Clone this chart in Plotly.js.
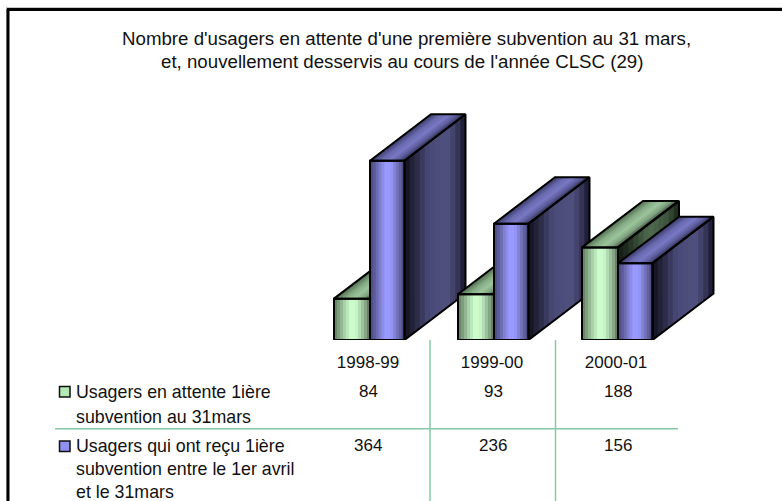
<!DOCTYPE html>
<html><head><meta charset="utf-8">
<script src="https://cdn.plot.ly/plotly-3.0.1.min.js"></script>
<style>html,body{margin:0;padding:0;background:#fff}</style>
</head><body><div id="chart" style="width:782px;height:501px"></div>
<script>
// ---- data
const periods = ["1998-99", "1999-00", "2000-01"];
const enAttente = [84, 93, 188];
const recu = [364, 236, 156];
const titleLines = ["Nombre d'usagers en attente d'une première subvention au 31 mars,", "et, nouvellement desservis au cours de l'année CLSC (29)"];
const enAttenteLabel = ["Usagers en attente 1ière", "subvention au 31mars"];
const recuLabel = ["Usagers qui ont reçu 1ière", "subvention entre le 1er avril", "et le 31mars"];

// ---- styles
const W = 782, H = 501, BASE_Y = 340;
const PX_PER_VALUE = 0.4925, PX_PER_GROUP = 124, GROUP0_X = 370;
const GREEN_W = 36 / PX_PER_GROUP, BLUE_W = 34.5 / PX_PER_GROUP, DX = 61 / PX_PER_GROUP, DY = 46.5 / PX_PER_VALUE;
const TICK_SHIFT = -0.016;
const BANDS = 12;
const greenStyle = {
  front: [[0,'#5f7a5f'],[.15,'#82a582'],[.3,'#aad4aa'],[.45,'#ccfccc'],[.6,'#ccfccc'],[.75,'#a6cea6'],[.9,'#7d9c7d'],[1,'#566a56']],
  side:  [[0,'#121a12'],[.2,'#263426'],[.5,'#4f6b4f'],[.8,'#3d533d'],[1,'#1a251a']],
  top:   [[0,'#506e50'],[.3,'#86ad86'],[.55,'#9cc59c'],[.8,'#7d9f7d'],[1,'#344634']]
};
const blueStyle = {
  front: [[0,'#48487e'],[.15,'#5f5fa0'],[.3,'#8080d0'],[.45,'#9999ff'],[.6,'#9999ff'],[.75,'#7c7cc8'],[.9,'#5c5c98'],[1,'#444478']],
  side:  [[0,'#10101c'],[.15,'#24243c'],[.4,'#4a4a78'],[.7,'#50507f'],[.85,'#3a3a60'],[1,'#14142a']],
  top:   [[0,'#3c3c6a'],[.3,'#6a6ab0'],[.55,'#7878c4'],[.8,'#5a5a98'],[1,'#2e2e50']]
};
const hex = c => [1,3,5].map(i => parseInt(c.substr(i,2),16));
function ramp(stops, t){
  for (let i=1;i<stops.length;i++) if (t<=stops[i][0]) {
    const a=stops[i-1], b=stops[i], f=(t-a[0])/(b[0]-a[0]);
    const A=hex(a[1]), B=hex(b[1]);
    return 'rgb('+A.map((v,k)=>Math.round(v+(B[k]-v)*f)).join(',')+')';
  }
  return stops[stops.length-1][1];
}
const traces = [];
function poly(name, xs, ys, color){
  traces.push({type:'scatter',mode:'lines',x:xs.concat(xs[0]),y:ys.concat(ys[0]),fill:'toself',
    fillcolor:color,line:{width:0},name:name,hoverinfo:'skip',showlegend:false});
}
function outline(name, xs, ys){
  traces.push({type:'scatter',mode:'lines',x:xs.concat(xs[0]),y:ys.concat(ys[0]),
    line:{color:'#000',width:2,simplify:false},name:name,hoverinfo:'skip',showlegend:false});
}
function bar3d(name, x0, w, v, st){
  const x1 = x0 + w;
  for (let b=0;b<BANDS;b++){
    const t=b/BANDS, c=(b+.5)/BANDS;
    // nested bands, each runs to the far edge so no seams show
    poly(name,[x0+t*w,x1,x1,x0+t*w],[0,0,v,v],ramp(st.front,c));
    poly(name,[x1+t*DX,x1+DX,x1+DX,x1+t*DX],[t*DY,DY,v+DY,v+t*DY],ramp(st.side,c));
    poly(name,[x0+t*w,x1,x1+DX,x0+t*w+DX],[v,v,v+DY,v+DY],ramp(st.top,c));
  }
  outline(name,[x0,x1,x1,x0],[0,0,v,v]);
  outline(name,[x1,x1+DX,x1+DX,x1],[0,DY,v+DY,v]);
  outline(name,[x0,x1,x1+DX,x0+DX],[v,v,v+DY,v+DY]);
}
periods.forEach((p,i)=>{
  bar3d('Usagers en attente', i-GREEN_W, GREEN_W, enAttente[i], greenStyle);
  bar3d('Usagers qui ont reçu', i, BLUE_W, recu[i], blueStyle);
});

// ---- page furniture, in pixel terms converted to paper fractions
const px = x => x/W, py = y => 1-y/H;
const FAMILY = '"Liberation Sans", Arial, sans-serif';
const font = size => ({family:FAMILY,size,color:'#111'});
const note = (text,x,y,size,anchor) => ({text,x:px(x),y:py(y),xref:'paper',yref:'paper',xanchor:anchor||'center',yanchor:'middle',showarrow:false,font:font(size),borderpad:0,borderwidth:0});
const annotations = [
  note(titleLines[0],406,38,18.7), note(titleLines[1],402,62,18.7)
];
enAttenteLabel.forEach((t,i)=>annotations.push(note(t,76,392+i*24.5,17.8,'left')));
recuLabel.forEach((t,i)=>annotations.push(note(t,76,446+i*23,17.8,'left')));
periods.forEach((p,i)=>{
  const cx = GROUP0_X-2+i*125;
  annotations.push(note(String(enAttente[i]),cx,391,17));
  annotations.push(note(String(recu[i]),cx,445,17));
});
const line = (x0,y0,x1,y1,color,width) => ({type:'line',xref:'paper',yref:'paper',x0:px(x0),y0:py(y0),x1:px(x1),y1:py(y1),line:{color,width}});
const rect = (x0,y0,x1,y1,fill) => ({type:'rect',xref:'paper',yref:'paper',x0:px(x0),y0:py(y0),x1:px(x1),y1:py(y1),fillcolor:fill,line:{color:'#111',width:1.5}});
const GRID='#85c8a5';
const shapes = [
  line(6.5,6.5,6.5,501,'#c8c8c8',1), line(6.5,7.5,782,7.5,'#c8c8c8',1),
  line(8,9,8,501,'#000',3), line(7,9.5,782,9.5,'#000',3),
  line(430,340,430,501,GRID,1.5), line(555.5,340,555.5,501,GRID,1.5), line(55,428.7,678,428.7,GRID,1.5),
  rect(59.5,386.5,70,397,'#b4e8b4'), rect(59.5,441,70,451.5,'#9090f0')
];
const layout = {
  width:W,height:H,paper_bgcolor:'#fff',plot_bgcolor:'rgba(0,0,0,0)',showlegend:false,
  margin:{l:0,r:0,t:0,b:0,pad:0},
  xaxis:{domain:[0,1],range:[-GROUP0_X/PX_PER_GROUP,(W-GROUP0_X)/PX_PER_GROUP],tickmode:'array',tickvals:periods.map((p,i)=>i+TICK_SHIFT),ticktext:periods,
    showgrid:false,zeroline:false,showline:false,ticks:'outside',ticklen:7,tickcolor:'rgba(0,0,0,0)',tickfont:font(17),fixedrange:true,automargin:false},
  yaxis:{domain:[1-BASE_Y/H,1],range:[0,BASE_Y/PX_PER_VALUE],visible:false,fixedrange:true},
  annotations,shapes
};
Plotly.newPlot('chart',traces,layout,{displayModeBar:false,staticPlot:true});
</script></body></html>
